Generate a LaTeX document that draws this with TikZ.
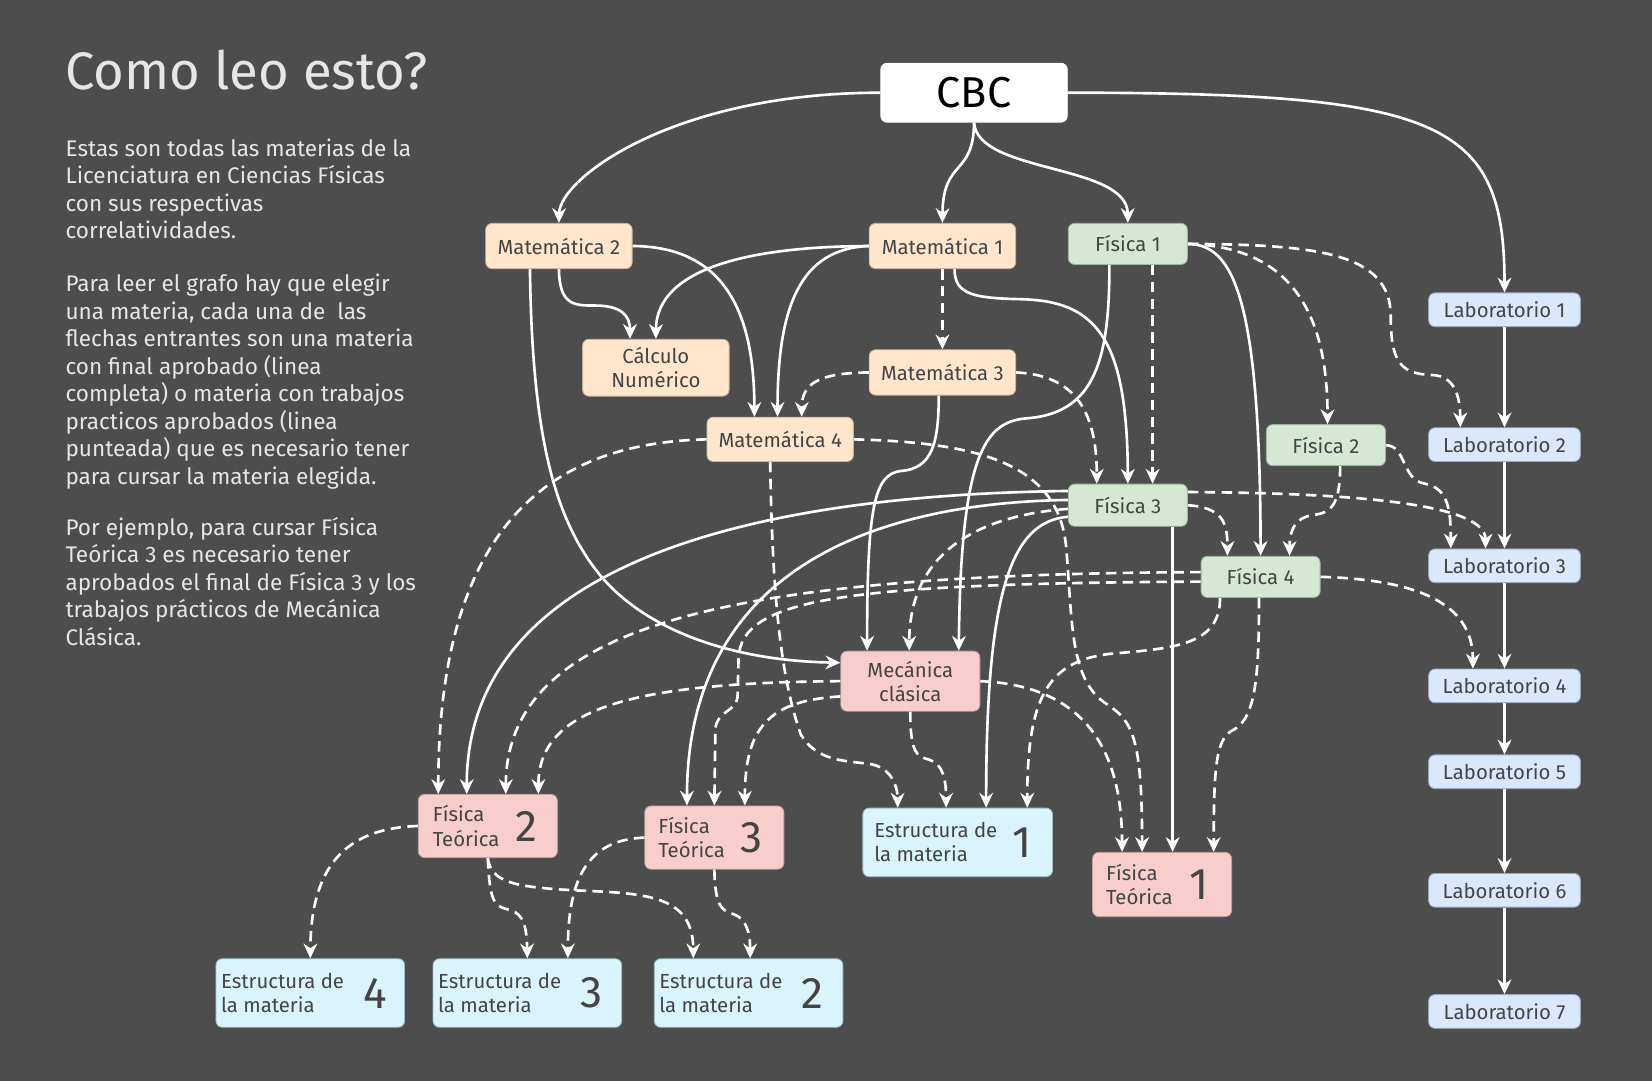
\documentclass[tikz,border=0pt]{standalone}
\usepackage{fontspec}
\setmainfont{Fira Sans}
\usetikzlibrary{arrows.meta}
\definecolor{bg}{HTML}{4D4D4D}
\definecolor{lighttxt}{HTML}{E6E6E6}
\definecolor{boxtxt}{HTML}{444444}
\definecolor{peach}{HTML}{FFE6CC}
\definecolor{peachd}{HTML}{C9B39C}
\definecolor{greenf}{HTML}{D5E8D4}
\definecolor{greend}{HTML}{9FB59E}
\definecolor{bluef}{HTML}{DAE8FC}
\definecolor{blued}{HTML}{9AA9C0}
\definecolor{pinkf}{HTML}{F8CECC}
\definecolor{pinkd}{HTML}{C29D9B}
\definecolor{cyanf}{HTML}{D9F4FA}
\definecolor{cyand}{HTML}{9DBCC3}
\tikzset{
  box/.style={rectangle, rounded corners=6pt, line width=0.8pt, inner sep=0pt,
    align=center, text=boxtxt, font=\fontsize{19.3}{23}\selectfont},
  cbcbox/.style={box, fill=white, draw=white, text=black, font=\fontsize{41}{44}\selectfont},
  mat/.style={box, fill=peach, draw=peachd, minimum width=139pt, minimum height=43pt},
  fis/.style={box, fill=greenf, draw=greend, minimum width=113pt, minimum height=39pt},
  lab/.style={box, fill=bluef, draw=blued, minimum width=144pt, minimum height=32pt},
  teo/.style={box, fill=pinkf, draw=pinkd, minimum width=132pt, minimum height=60pt},
  est/.style={box, fill=cyanf, draw=cyand, minimum width=179pt, minimum height=65pt},
  inl/.style={anchor=west, inner sep=0pt, align=left, text=boxtxt, font=\fontsize{19.3}{23}\selectfont},
  bignum/.style={inner sep=0pt, text=boxtxt, font=\fontsize{42}{42}\selectfont},
  para/.style={anchor=base west, inner sep=0pt, text=lighttxt, font=\fontsize{21.4}{26.1}\selectfont},
  fin/.style={draw=white, line width=2.5pt, -{Stealth[length=14pt,width=13pt,inset=4.5pt]}},
  tp/.style={fin, dash pattern=on 10pt off 6pt}
}
\begin{document}
\begin{tikzpicture}[x=1pt,y=-1pt]
\path[use as bounding box, fill=bg] (0,0) rectangle (1568,1026);

% ---- texts on the left
\node[anchor=base west, inner sep=0pt, text=lighttxt, font=\fontsize{50}{56}\selectfont] (title) at (62,85) {Como leo esto?};
\node[para] (p1) at (62,148.5) {\begin{tabular}[t]{@{}l@{}}Estas son todas las materias de la\\Licenciatura en Ciencias Físicas\\con sus respectivas\\correlatividades.\end{tabular}};
\node[para] (p2) at (62,277) {\begin{tabular}[t]{@{}l@{}}Para leer el grafo hay que elegir\\una materia, cada una de\ \ las\\flechas entrantes son una materia\\con final aprobado (linea\\completa) o materia con trabajos\\practicos aprobados (linea\\punteada) que es necesario tener\\para cursar la materia elegida.\end{tabular}};
\node[para] (p3) at (62,508) {\begin{tabular}[t]{@{}l@{}}Por ejemplo, para cursar Física\\Teórica 3 es necesario tener\\aprobados el final de Física 3 y los\\trabajos prácticos de Mecánica\\Clásica.\end{tabular}};

% ---- nodes
\node[cbcbox, minimum width=177pt, minimum height=56pt] (cbc) at (924.5,88) {CBC};
\node[mat] (m2) at (530.5,233.5) {Matemática 2};
\node[mat] (m1) at (894.5,233.5) {Matemática 1};
\node[fis] (f1) at (1070.5,231.5) {Física 1};
\node[lab] (l1) at (1428,294) {Laboratorio 1};
\node[mat, minimum height=54pt] (cn) at (622.5,349) {Cálculo\\Numérico};
\node[mat] (m3) at (894.5,353.5) {Matemática 3};
\node[mat, minimum height=42pt] (m4) at (740.5,417) {Matemática 4};
\node[fis] (f2) at (1258.5,422.5) {Física 2};
\node[lab] (l2) at (1428,422) {Laboratorio 2};
\node[fis, minimum height=40pt] (f3) at (1070.5,479.5) {Física 3};
\node[lab] (l3) at (1428,537) {Laboratorio 3};
\node[fis] (f4) at (1196.5,547.5) {Física 4};
\node[teo, minimum height=57pt] (mc) at (864,646.5) {Mecánica\\clásica};
\node[lab] (l4) at (1428,651) {Laboratorio 4};
\node[lab] (l5) at (1428,732.5) {Laboratorio 5};
\node[teo] (ft2) at (463,784) {};
\node[teo] (ft3) at (678,795) {};
\node[est, minimum width=180pt] (e1) at (909,799.5) {};
\node[teo, minimum height=61pt] (ft1) at (1103,839.5) {};
\node[lab] (l6) at (1428,845) {Laboratorio 6};
\node[est] (e4) at (294.5,942.5) {};
\node[est] (e3) at (500.5,942.5) {};
\node[est] (e2) at (710.5,942.5) {};
\node[lab] (l7) at (1428,960) {Laboratorio 7};

\node[inl] (ft2a) at ([xshift=14pt]ft2.west) {Física\\Teórica};
\node[bignum] (ft2b) at ([xshift=-30pt]ft2.east) {2};
\node[inl] (ft3a) at ([xshift=13pt]ft3.west) {Física\\Teórica};
\node[bignum] (ft3b) at ([xshift=-31pt]ft3.east) {3};
\node[inl] (ft1a) at ([xshift=13pt]ft1.west) {Física\\Teórica};
\node[bignum] (ft1b) at ([xshift=-31pt]ft1.east) {1};
\node[inl] (e1a) at ([xshift=11pt]e1.west) {Estructura de\\la materia};
\node[bignum] (e1b) at ([xshift=-29pt]e1.east) {1};
\node[inl] (e4a) at ([xshift=5pt]e4.west) {Estructura de\\la materia};
\node[bignum] (e4b) at ([xshift=-28pt]e4.east) {4};
\node[inl] (e3a) at ([xshift=5pt]e3.west) {Estructura de\\la materia};
\node[bignum] (e3b) at ([xshift=-29pt]e3.east) {3};
\node[inl] (e2a) at ([xshift=5pt]e2.west) {Estructura de\\la materia};
\node[bignum] (e2b) at ([xshift=-29pt]e2.east) {2};

% ---- connectors from CBC
\draw[fin] (cbc.west) .. controls (640,88) and (531,169) .. (m2.north);
\draw[fin] (cbc.south) .. controls (924,168) and (895,150) .. (m1.north);
\draw[fin] (cbc.south) .. controls (928,165) and (1070,155) .. (f1.north);
\draw[fin] (cbc.east) .. controls (1370,88) and (1428,115) .. (l1.north);

% ---- Matematica 2
\draw[fin] (m2.south) .. controls (531,290) and (545,290) .. (565,290) .. controls (590,290) and (598,300) .. ([xshift=-24.5pt]cn.north);
\draw[fin] (m2.east) .. controls (690,234) and (716,300) .. ([xshift=-24.5pt]m4.north);
\draw[fin] ([xshift=-27.5pt]m2.south) .. controls (505,410) and (525,490) .. (568,544) .. controls (610,596) and (690,627) .. ([yshift=17.5pt]mc.west);

% ---- Matematica 1
\draw[fin] (m1.west) .. controls (710,234) and (623,255) .. (cn.north);
\draw[fin] (m1.west) .. controls (760,236) and (738,290) .. ([xshift=-2.5pt]m4.north);
\draw[tp] (m1.south) -- (m3.north);
\draw[fin] ([xshift=11.5pt]m1.south) .. controls (906,280) and (925,283) .. (970,284) .. controls (1040,286) and (1070,320) .. (f3.north);

% ---- Fisica 1
\draw[fin] ([xshift=-17.5pt]f1.south) .. controls (1053,340) and (1040,392) .. (975,397) .. controls (935,400) and (912,430) .. ([xshift=46pt]mc.north);
\draw[tp] ([xshift=23.5pt]f1.south) -- ([xshift=23.5pt]f3.north);
\draw[fin] (f1.east) .. controls (1170,232) and (1196,280) .. (f4.north);
\draw[tp] (f1.east) .. controls (1220,234) and (1260,290) .. ([xshift=1.5pt]f2.north);
\draw[tp] (f1.east) .. controls (1250,232) and (1320,240) .. (1320,300) .. controls (1320,345) and (1330,355) .. (1360,356) .. controls (1380,357) and (1386,375) .. ([xshift=-42pt]l2.north);

% ---- Matematica 3
\draw[tp] (m3.west) .. controls (775,354) and (761,365) .. ([xshift=20.5pt]m4.north);
\draw[tp] (m3.east) .. controls (1020,356) and (1041,390) .. ([xshift=-29.5pt]f3.north);
\draw[fin] ([xshift=-3.5pt]m3.south) .. controls (891,420) and (885,445) .. (855,447) .. controls (830,450) and (823,480) .. ([xshift=-41pt]mc.north);

% ---- Matematica 4
\draw[tp] (m4.west) .. controls (540,420) and (416,480) .. ([xshift=-47pt]ft2.north);
\draw[tp] ([xshift=-9.5pt]m4.south) .. controls (733,560) and (740,640) .. (760,697) .. controls (775,722) and (800,722) .. (825,725) .. controls (845,728) and (852,745) .. ([xshift=-57pt]e1.north);
\draw[tp] (m4.east) .. controls (930,420) and (1005,440) .. (1012,520) .. controls (1018,590) and (1015,645) .. (1050,668) .. controls (1075,684) and (1084,700) .. ([xshift=-19pt]ft1.north);

% ---- Fisica 2
\draw[tp] ([xshift=13.5pt]f2.south) .. controls (1272,482) and (1262,487) .. (1245,489) .. controls (1228,492) and (1224,505) .. ([xshift=27.5pt]f4.north);
\draw[tp] (f2.east) .. controls (1335,423) and (1330,455) .. (1352,459) .. controls (1375,463) and (1377,485) .. ([xshift=-51pt]l3.north);

% ---- Fisica 3
\draw[fin] ([yshift=13.5pt]f3.west) .. controls (700,470) and (443,540) .. ([xshift=-20pt]ft2.north);
\draw[fin] ([yshift=5pt]f3.west) .. controls (800,478) and (652,560) .. ([xshift=-26pt]ft3.north);
\draw[tp] ([yshift=-3.5pt]f3.west) .. controls (920,490) and (863,530) .. ([xshift=-1pt]mc.north);
\draw[fin] ([yshift=-11pt]f3.west) .. controls (960,495) and (936,560) .. ([xshift=27pt]e1.north);
\draw[fin] ([xshift=42.5pt]f3.south) -- ([xshift=10pt]ft1.north);
\draw[tp] ([yshift=12.5pt]f3.east) .. controls (1300,468) and (1410,480) .. ([xshift=-18pt]l3.north);
\draw[tp] (f3.east) .. controls (1160,482) and (1165,495) .. ([xshift=-31.5pt]f4.north);

% ---- Fisica 4
\draw[tp] ([yshift=4.5pt]f4.west) .. controls (700,545) and (481,590) .. ([xshift=17pt]ft2.north);
\draw[tp] ([yshift=-4.5pt]f4.west) .. controls (800,554) and (703,568) .. (701,625) -- (700,662) .. controls (699,675) and (680,675) .. (679,692) -- (ft3.north);
\draw[tp] (f4.east) .. controls (1340,550) and (1398,570) .. ([xshift=-30pt]l4.north);
\draw[tp] ([xshift=-38.5pt]f4.south) .. controls (1158,610) and (1120,615) .. (1060,620) .. controls (995,625) and (975,660) .. ([xshift=66pt]e1.north);
\draw[tp] ([xshift=-1.5pt]f4.south) .. controls (1195,640) and (1192,680) .. (1172,692) .. controls (1155,700) and (1152,720) .. ([xshift=49pt]ft1.north);

% ---- Mecanica clasica
\draw[tp] (mc.west) .. controls (600,648) and (511,672) .. ([xshift=48pt]ft2.north);
\draw[tp] ([yshift=-14.5pt]mc.west) .. controls (730,665) and (707,690) .. ([xshift=29pt]ft3.north);
\draw[tp] (mc.south) .. controls (864,715) and (870,718) .. (882,721) .. controls (895,725) and (898,740) .. ([xshift=-11pt]e1.north);
\draw[tp] (mc.east) .. controls (1010,650) and (1065,690) .. ([xshift=-38pt]ft1.north);

% ---- Fisica Teorica 2 and 3
\draw[tp] (ft2.west) .. controls (330,786) and (295,820) .. (e4.north);
\draw[tp] (ft2.south) .. controls (465,860) and (470,860) .. (485,864) .. controls (497,868) and (500,880) .. (e3.north);
\draw[tp] (ft2.south) .. controls (466,838) and (490,842) .. (545,845) .. controls (610,848) and (658,848) .. ([xshift=-52.5pt]e2.north);
\draw[tp] (ft3.west) .. controls (560,797) and (539,830) .. ([xshift=38.5pt]e3.north);
\draw[tp] (ft3.south) .. controls (679,860) and (684,864) .. (697,868) .. controls (708,872) and (712,885) .. ([xshift=1.5pt]e2.north);

% ---- Laboratorios
\draw[fin] (l1.south) -- (l2.north);
\draw[fin] (l2.south) -- (l3.north);
\draw[fin] (l3.south) -- (l4.north);
\draw[fin] (l4.south) -- (l5.north);
\draw[fin] (l5.south) -- (l6.north);
\draw[fin] (l6.south) -- (l7.north);
\end{tikzpicture}
\end{document}
